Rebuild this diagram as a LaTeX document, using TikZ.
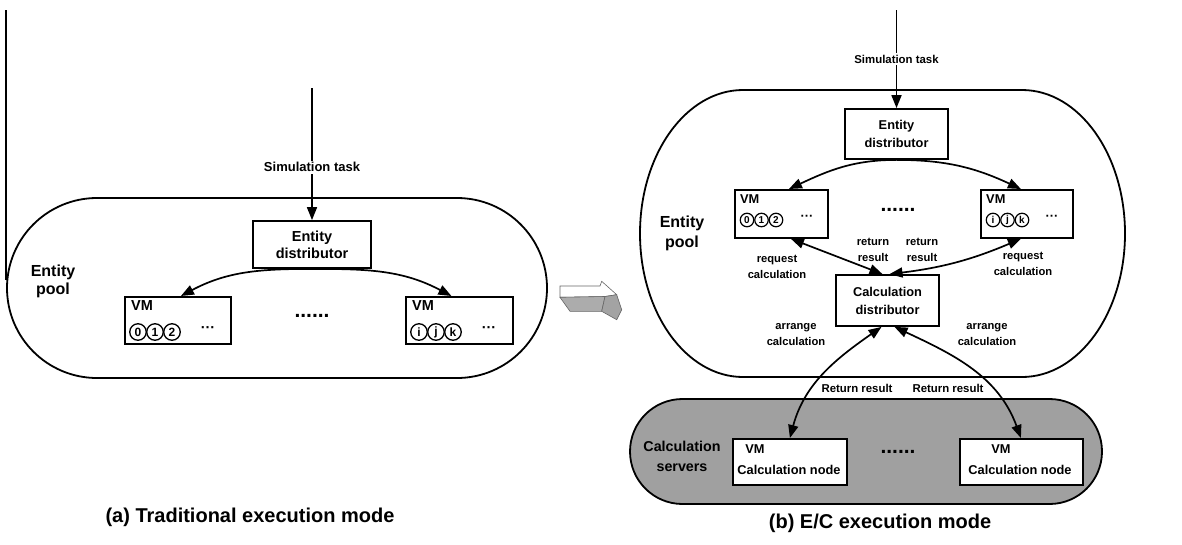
\documentclass[tikz,border=0pt]{standalone}
\usepackage{fontspec}
\setmainfont{Liberation Sans}
\usetikzlibrary{arrows.meta,calc}
% font presets
\newcommand\fBoxA{\fontsize{14.5}{17}\selectfont\bfseries}
\newcommand\fBoxB{\fontsize{12.8}{18}\selectfont\bfseries}
\newcommand\fTaskA{\fontsize{13}{15}\selectfont\bfseries}
\newcommand\fTaskB{\fontsize{11.4}{13}\selectfont\bfseries}
\newcommand\fPoolA{\fontsize{16}{18}\selectfont\bfseries}
\newcommand\fPoolB{\fontsize{16}{20}\selectfont\bfseries}
\newcommand\fSrv{\fontsize{14.3}{20}\selectfont\bfseries}
\newcommand\fLab{\fontsize{11.2}{16}\selectfont\bfseries}
\newcommand\fRet{\fontsize{11.4}{14}\selectfont\bfseries}
\newcommand\fCap{\fontsize{20}{24}\selectfont\bfseries}
\newcommand\fDots{\fontsize{21}{24}\selectfont\bfseries}
\newcommand\mdots{\char"00B7\char"00B7\char"00B7}
\begin{document}
\begin{tikzpicture}[x=1pt,y=1pt,
  >={Triangle[length=13pt,width=10pt]},
  box/.style={draw,line width=1.8pt,fill=white,inner sep=0pt,align=center},
  arr/.style={line width=1.7pt,->},
  darr/.style={line width=1.7pt,<->},
  pool/.style={line width=1.8pt},
  lab/.style={align=center,inner sep=0pt},
  cnA/.style={circle,draw,line width=1.3pt,inner sep=0pt,minimum size=16.5pt,font=\fontsize{12}{12}\selectfont\bfseries},
  cnB/.style={circle,draw,line width=1.2pt,inner sep=0pt,minimum size=13.5pt,font=\fontsize{10}{10}\selectfont\bfseries},
  face/.style={draw=gray!80!black,line width=0.6pt},
]
\useasboundingbox (0,0) rectangle (1182,-544);

% ---------- (a) traditional execution mode ----------
\draw[line width=1.8pt] (6,-10) -- (6,-280);
\draw[pool] (97,-198) -- (457,-198) arc[start angle=90,end angle=-90,radius=90]
  -- (97,-378) arc[start angle=270,end angle=90,radius=90] -- cycle;
\node[lab,font=\fPoolA] (poolA) at (53,-281) {Entity\\pool};

\coordinate (inA) at (312,-88);
\node[box,font=\fBoxA,minimum width=118,minimum height=47] (edA) at (312,-244.5) {Entity\\distributor};
\draw[arr] (inA) -- node[pos=0.6,fill=white,inner sep=1.5pt,font=\fTaskA] (taskA) {Simulation task} (edA.north);

\node[box,anchor=north west,minimum width=106,minimum height=47] (vmA1) at (124,-296) {};
\node[box,anchor=north west,minimum width=107,minimum height=47] (vmA2) at (405,-296) {};
\node[lab,anchor=west,font=\fBoxA] (vmA1t) at (131,-306) {VM};
\node[lab,anchor=west,font=\fBoxA] (vmA2t) at (412,-306) {VM};
\node[cnA] (a0) at (138,-332) {0};
\node[cnA] (a1) at (155,-332) {1};
\node[cnA] (a2) at (172,-332) {2};
\node[lab,font=\fBoxA] (aeA1) at (208,-330) {\mdots};
\node[cnA] (ai) at (419,-332) {i};
\node[cnA] (aj) at (436,-332) {j};
\node[cnA] (ak) at (453,-332) {k};
\node[lab,font=\fBoxA] (aeA2) at (489,-330) {\mdots};
\node[lab,font=\fDots] (dotsA) at (312,-316) {......};

\draw[arr] (edA.south) to[out=180,in=28] ([xshift=3pt]vmA1.north);
\draw[arr] (edA.south) to[out=0,in=152] ([xshift=-8pt]vmA2.north);

\node[lab,font=\fCap] (capA) at (250,-517) {(a) Traditional execution mode};

% ---------- transition arrow ----------
\draw[face,fill=white] (560,-286) -- (600,-286) -- (601.7,-281.3) -- (616.7,-294.7) -- (605,-296.5) -- (560,-297.3) -- cycle;
\draw[face,fill=gray!65] (560,-297.3) -- (605,-296.5) -- (601.7,-311.3) -- (570,-311.3) -- cycle;
\draw[face,fill=gray!72] (605,-296.5) -- (616.7,-294.7) -- (621.7,-309.7) -- (616.7,-319.7) -- (601.7,-311.3) -- cycle;

% ---------- (b) E/C execution mode ----------
\draw[pool] (743,-90) -- (1022,-90) arc[start angle=90,end angle=-90,x radius=103,y radius=143.5]
  -- (743,-377) arc[start angle=270,end angle=90,x radius=103,y radius=143.5] -- cycle;
\node[lab,font=\fPoolB] (poolB) at (682,-233) {Entity\\pool};

\draw[pool,fill={rgb,255:red,160;green,160;blue,160}] (682.5,-399) -- (1049.5,-399)
  arc[start angle=90,end angle=-90,radius=52.5] -- (682.5,-504)
  arc[start angle=270,end angle=90,radius=52.5] -- cycle;
\node[lab,font=\fSrv] (srv) at (682,-456) {Calculation\\servers};

\coordinate (inB) at (896.5,-10);
\node[box,font=\fBoxB,minimum width=103,minimum height=50] (edB) at (896.5,-134) {Entity\\distributor};
\draw[arr] (inB) -- node[pos=0.5,fill=white,inner sep=1.5pt,font=\fTaskB] (taskB) {Simulation task} (edB.north);

\node[box,anchor=north west,minimum width=93,minimum height=48] (vmB1) at (734,-189) {};
\node[box,anchor=north west,minimum width=92,minimum height=48] (vmB2) at (980,-189) {};
\node[lab,anchor=west,font=\fBoxB] (vmB1t) at (740,-199) {VM};
\node[lab,anchor=west,font=\fBoxB] (vmB2t) at (986,-199) {VM};
\node[cnB] (b0) at (747,-220) {0};
\node[cnB] (b1) at (761.5,-220) {1};
\node[cnB] (b2) at (776,-220) {2};
\node[lab,font=\fBoxB] (beB1) at (807,-218) {\mdots};
\node[cnB] (bi) at (993,-220) {i};
\node[cnB] (bj) at (1007.5,-220) {j};
\node[cnB] (bk) at (1022,-220) {k};
\node[lab,font=\fBoxB] (beB2) at (1052,-218) {\mdots};
\node[lab,font=\fDots] (dotsB) at (898,-210) {......};

\draw[arr] (edB.south) to[out=180,in=25] ([xshift=7.5pt]vmB1.north);
\draw[arr] (edB.south) to[out=0,in=155] ([xshift=-6pt]vmB2.north);

\node[box,font=\fBoxB,minimum width=103,minimum height=51] (cdB) at (887.5,-300.5) {Calculation\\distributor};

\draw[darr] ([xshift=9.5pt]vmB1.south) -- ([xshift=-5pt]cdB.north);
\draw[darr] ([xshift=-6pt]vmB2.south) to[bend left=8] ([xshift=2pt]cdB.north);

\node[lab,font=\fLab] (rqL) at (777,-267) {request\\calculation};
\node[lab,font=\fLab] (rrL) at (873,-250) {return\\result};
\node[lab,font=\fLab] (rrR) at (922,-250) {return\\result};
\node[lab,font=\fLab] (rqR) at (1023,-264) {request\\calculation};

\node[box,anchor=north west,minimum width=114,minimum height=46] (cnB1) at (732,-438) {};
\node[box,anchor=north west,minimum width=123,minimum height=46] (cnB2) at (959,-438) {};
\node[lab,font=\fBoxB] (cnB1v) at (755,-449) {VM};
\node[lab,font=\fBoxB] (cnB1t) at (789,-470) {Calculation node};
\node[lab,font=\fBoxB] (cnB2v) at (1001,-449) {VM};
\node[lab,font=\fBoxB] (cnB2t) at (1020,-470) {Calculation node};
\node[lab,font=\fDots] (dotsC) at (898,-452) {......};

\draw[darr] ([xshift=-6pt]cdB.south) to[out=-145,in=75] (cnB1.north);
\draw[darr] ([xshift=7pt]cdB.south) to[out=-25,in=110] ([xshift=-0.5pt]cnB2.north);

\node[lab,font=\fLab] (arL) at (796,-335) {arrange\\calculation};
\node[lab,font=\fLab] (arR) at (987,-335) {arrange\\calculation};
\node[lab,font=\fRet] (retL) at (857,-388) {Return result};
\node[lab,font=\fRet] (retR) at (948,-388) {Return result};

\node[lab,font=\fCap] (capB) at (880,-523) {(b) E/C execution mode};
\end{tikzpicture}
\end{document}
